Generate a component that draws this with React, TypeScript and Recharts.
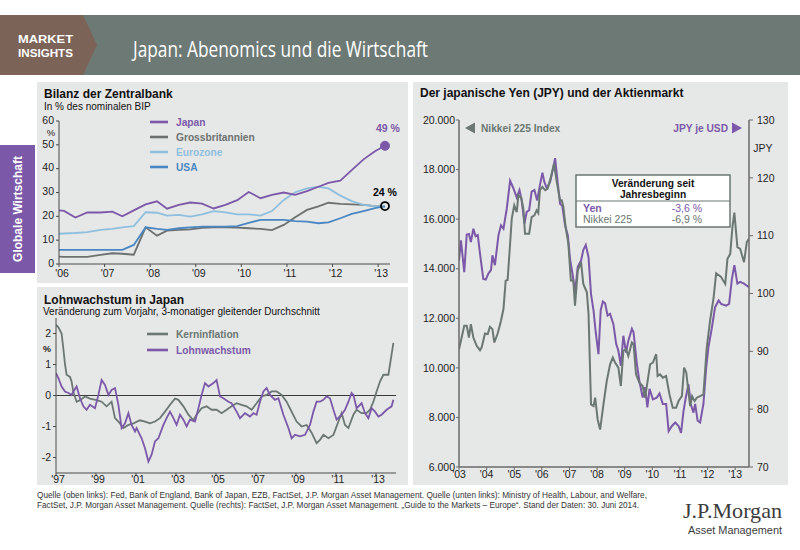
import React from 'react';
import { LineChart, Line, XAxis, YAxis, ReferenceLine, ReferenceDot } from 'recharts';

// ---------- Colours ----------
const PURPLE = '#7b59a8';
const SLATE = '#6b7772';
const UKGRAY = '#6c716f';
const EURO = '#8fbfde';
const USA = '#4a87c2';
const PANEL = '#e6e7e7';
const HEADER = '#6d7975';
const BROWN = '#7c6358';
const AXIS = '#4a4a4a';
const FONT = '"Liberation Sans", Arial, Helvetica, sans-serif';

// ---------- Chart 1: Bilanz der Zentralbank (% of GDP) ----------
const bsDates = [2006.0, 2006.11, 2006.36, 2006.62, 2006.91, 2007.17, 2007.39, 2007.64, 2007.9, 2008.15, 2008.37, 2008.63, 2008.88, 2009.14, 2009.39, 2009.65, 2009.91, 2010.16, 2010.42, 2010.67, 2010.93, 2011.18, 2011.44, 2011.69, 2011.91, 2012.17, 2012.42, 2012.68, 2012.93, 2013.15];
const bsJapan = [22.5, 22.3, 19.5, 21.6, 21.6, 22.0, 20.0, 22.5, 25.0, 26.3, 23.2, 24.8, 25.8, 25.3, 23.3, 24.8, 26.8, 30.2, 27.6, 29.0, 30.0, 29.0, 30.6, 32.4, 34.0, 35.0, 39.4, 43.9, 47.3, 49.6];
const bsUK = [3.1, 3.0, 3.0, 3.0, 3.8, 4.5, 4.3, 3.9, 15.4, 11.9, 14.0, 14.3, 14.5, 15.2, 15.4, 15.4, 15.3, 15.0, 14.7, 14.2, 16.4, 19.6, 22.7, 24.2, 25.7, 25.2, 25.0, 24.8, 24.3, 24.0];
const bsEuro = [12.7, 12.8, 13.0, 13.4, 14.3, 14.7, 15.4, 15.9, 21.7, 21.5, 20.3, 20.6, 19.9, 20.8, 22.2, 21.7, 20.8, 20.8, 20.3, 22.2, 26.9, 30.1, 31.7, 32.4, 31.7, 28.7, 26.4, 24.8, 24.3, 24.0];
const bsUSA = [5.9, 5.9, 5.9, 5.9, 5.9, 5.9, 5.9, 8.0, 15.4, 14.7, 14.3, 15.0, 15.4, 15.7, 15.7, 15.7, 15.9, 17.3, 18.5, 18.5, 18.5, 18.0, 17.8, 17.1, 17.5, 19.2, 21.0, 22.2, 23.4, 24.3];
const bsYearTicks = [2006, 2007, 2008, 2009, 2010, 2011, 2012, 2013];
const bsValueTicks = [0, 10, 20, 30, 40, 50, 60];
const bsLegend = [
  { name: 'Japan', color: PURPLE },
  { name: 'Grossbritannien', color: UKGRAY },
  { name: 'Eurozone', color: EURO },
  { name: 'USA', color: USA },
];

// ---------- Chart 2: Lohnwachstum in Japan ----------
const kerninflation: [number, number][] = [
  [1997.0, 2.28], [1997.12, 2.2], [1997.28, 2.0], [1997.37, 1.5], [1997.45, 1.0], [1997.53, 0.67], [1997.7, 0.6], [1997.78, 0.45], [1997.87, 0.1],
  [1998.03, -0.2], [1998.2, -0.15], [1998.45, -0.03], [1998.7, -0.1], [1999.03, -0.15], [1999.28, -0.2], [1999.53, -0.35], [1999.78, -0.2], [1999.95, -0.73],
  [2000.12, -0.84], [2000.37, -1.05], [2000.62, -0.95], [2000.87, -0.9], [2001.2, -0.8], [2001.45, -0.84], [2001.7, -0.9], [2001.95, -0.84],
  [2002.2, -0.73], [2002.45, -0.52], [2002.7, -0.3], [2002.95, -0.1], [2003.12, -0.14], [2003.37, -0.35], [2003.62, -0.62], [2003.87, -0.8],
  [2004.03, -0.62], [2004.28, -0.41], [2004.53, -0.35], [2004.78, -0.46], [2005.03, -0.46], [2005.28, -0.57], [2005.53, -0.46], [2005.78, -0.35],
  [2006.03, -0.25], [2006.28, -0.3], [2006.53, -0.35], [2006.78, -0.46], [2007.03, -0.25], [2007.28, -0.03], [2007.53, 0.02], [2007.78, 0.13],
  [2008.03, 0.13], [2008.28, 0.02], [2008.53, -0.2], [2008.78, -0.52], [2009.03, -0.84], [2009.28, -1.0], [2009.53, -0.95], [2009.78, -1.2],
  [2010.03, -1.54], [2010.2, -1.43], [2010.37, -1.27], [2010.62, -1.38], [2010.87, -1.27], [2011.12, -0.84], [2011.28, -0.57], [2011.45, -0.95],
  [2011.62, -1.05], [2011.87, -0.62], [2012.03, -0.46], [2012.28, -0.57], [2012.53, -0.57], [2012.7, -0.46], [2012.87, -0.2], [2013.03, 0.13],
  [2013.2, 0.45], [2013.37, 0.67], [2013.62, 0.67], [2013.87, 1.7],
];
const lohnwachstum: [number, number][] = [
  [1997.0, 0.72], [1997.12, 0.56], [1997.28, 0.29], [1997.45, 0.13], [1997.62, 0.08], [1997.78, 0.02], [1997.87, 0.13], [1998.03, 0.29],
  [1998.2, -0.09], [1998.37, -0.35], [1998.53, -0.46], [1998.7, -0.3], [1998.95, -0.41], [1999.12, 0.02], [1999.28, 0.5], [1999.45, 0.34],
  [1999.62, 0.02], [1999.78, 0.18], [1999.95, 0.24], [2000.12, -0.3], [2000.28, -1.05], [2000.45, -0.9], [2000.62, -0.57], [2000.78, -0.95],
  [2000.95, -1.16], [2001.03, -1.05], [2001.28, -1.38], [2001.45, -1.7], [2001.62, -2.13], [2001.78, -1.91], [2001.95, -1.48], [2002.12, -1.38],
  [2002.37, -0.95], [2002.53, -0.73], [2002.7, -0.52], [2002.87, -0.73], [2003.03, -0.95], [2003.2, -0.62], [2003.37, -0.78], [2003.53, -1.0],
  [2003.7, -0.78], [2003.95, -0.84], [2004.12, -0.41], [2004.28, 0.02], [2004.45, 0.4], [2004.62, 0.29], [2004.87, 0.4], [2005.03, 0.5],
  [2005.2, -0.03], [2005.37, -0.09], [2005.62, -0.2], [2005.78, -0.25], [2006.03, -0.52], [2006.2, -0.73], [2006.45, -0.57], [2006.7, -0.68],
  [2006.87, -0.57], [2007.03, -0.62], [2007.2, -0.2], [2007.37, 0.13], [2007.53, 0.24], [2007.7, 0.02], [2007.95, -0.14], [2008.12, -0.09],
  [2008.37, -0.62], [2008.62, -1.05], [2008.78, -1.38], [2008.95, -1.27], [2009.2, -1.32], [2009.45, -1.27], [2009.7, -0.95], [2009.87, -0.52],
  [2010.03, -0.2], [2010.2, -0.2], [2010.37, -0.14], [2010.53, -0.03], [2010.7, -0.09], [2010.87, -0.46], [2011.03, -0.78], [2011.28, -0.62],
  [2011.45, -0.46], [2011.62, -0.2], [2011.78, 0.08], [2011.87, 0.02], [2012.03, -0.41], [2012.28, -0.25], [2012.45, -0.57], [2012.62, -0.73],
  [2012.78, -0.41], [2012.95, -0.52], [2013.12, -0.68], [2013.28, -0.62], [2013.53, -0.46], [2013.78, -0.35], [2013.87, -0.14],
];
const wageYearTicks = [1997, 1999, 2001, 2003, 2005, 2007, 2009, 2011, 2013];
const wageValueTicks = [-2, -1, 0, 1, 2];
const wageLegend = [
  { name: 'Kerninflation', color: SLATE },
  { name: 'Lohnwachstum', color: PURPLE },
];

// ---------- Chart 3: Yen und Aktienmarkt ----------
const yenUsd: [number, number][] = [
  [2003.0, 105.7], [2003.07, 109.2], [2003.19, 103.7], [2003.28, 110.2], [2003.36, 110.3], [2003.43, 108.9], [2003.52, 111.2], [2003.6, 109.9],
  [2003.68, 110.1], [2003.76, 106.9], [2003.88, 102.5], [2003.97, 102.4], [2004.06, 103.4], [2004.16, 104.1], [2004.21, 106.6], [2004.3, 104.9],
  [2004.43, 110.1], [2004.52, 111.8], [2004.61, 111.2], [2004.73, 114.7], [2004.85, 119.5], [2004.97, 118.2], [2005.09, 116.6], [2005.19, 117.9],
  [2005.27, 116.1], [2005.37, 112.1], [2005.45, 114.1], [2005.54, 114.4], [2005.63, 117.6], [2005.73, 117.9], [2005.83, 116.1], [2005.93, 118.7],
  [2006.02, 120.9], [2006.09, 119.3], [2006.18, 118.2], [2006.3, 119.3], [2006.42, 121.9], [2006.48, 123.4], [2006.57, 119.3], [2006.66, 115.5],
  [2006.74, 115.1], [2006.84, 111.8], [2006.94, 110.1], [2007.02, 106.0], [2007.11, 103.4], [2007.2, 100.2], [2007.3, 104.6], [2007.42, 105.7],
  [2007.5, 107.5], [2007.59, 108.4], [2007.69, 106.3], [2007.78, 99.9], [2007.87, 97.1], [2007.95, 93.3], [2008.05, 89.5], [2008.13, 97.1],
  [2008.21, 98.6], [2008.29, 98.3], [2008.38, 96.2], [2008.47, 96.5], [2008.59, 94.7], [2008.69, 91.3], [2008.77, 90.1], [2008.86, 87.5],
  [2008.95, 92.7], [2009.05, 89.8], [2009.13, 91.8], [2009.26, 93.9], [2009.32, 93.3], [2009.44, 87.8], [2009.53, 84.9], [2009.65, 82.0],
  [2009.74, 83.8], [2009.82, 80.3], [2009.9, 83.5], [2010.02, 81.7], [2010.16, 82.0], [2010.26, 82.7], [2010.38, 80.9], [2010.5, 80.9],
  [2010.59, 76.2], [2010.71, 77.1], [2010.83, 77.7], [2010.95, 77.1], [2011.04, 75.9], [2011.13, 79.7], [2011.21, 82.0], [2011.31, 84.3],
  [2011.39, 80.9], [2011.49, 79.4], [2011.55, 80.9], [2011.64, 78.0], [2011.73, 77.7], [2011.85, 80.9], [2011.95, 87.2], [2012.03, 90.7],
  [2012.15, 93.9], [2012.27, 97.6], [2012.4, 98.8], [2012.49, 98.2], [2012.67, 97.9], [2012.78, 98.2], [2012.88, 102.5], [2012.97, 104.9],
  [2013.08, 101.7], [2013.18, 102.0], [2013.32, 101.7], [2013.5, 101.1],
];
const nikkei225: [number, number][] = [
  [2003.0, 10753], [2003.07, 11090], [2003.19, 11700], [2003.28, 11700], [2003.36, 11225], [2003.43, 11765], [2003.52, 11225], [2003.64, 10888],
  [2003.76, 10712], [2003.82, 10820], [2003.94, 11387], [2004.04, 11360], [2004.12, 11657], [2004.21, 11563], [2004.28, 11023], [2004.4, 11387],
  [2004.52, 11900], [2004.61, 12372], [2004.69, 13520], [2004.76, 13547], [2004.85, 15005], [2004.91, 16017], [2005.0, 16557], [2005.09, 16287],
  [2005.15, 16962], [2005.25, 16868], [2005.33, 16422], [2005.39, 15410], [2005.54, 15410], [2005.63, 16085], [2005.73, 16152], [2005.81, 16355],
  [2005.87, 16247], [2005.93, 17165], [2006.02, 17300], [2006.12, 17165], [2006.21, 17232], [2006.33, 17705], [2006.44, 18245], [2006.54, 17502],
  [2006.66, 16760], [2006.72, 16760], [2006.78, 16490], [2006.86, 15680], [2006.96, 15005], [2007.05, 13520], [2007.14, 13520], [2007.2, 12507],
  [2007.3, 13925], [2007.42, 14262], [2007.5, 13385], [2007.63, 13047], [2007.69, 12170], [2007.78, 8525], [2007.87, 8457], [2007.93, 8795],
  [2008.02, 7917], [2008.11, 7512], [2008.23, 8525], [2008.35, 9470], [2008.47, 10145], [2008.57, 10415], [2008.65, 10212], [2008.77, 10010],
  [2008.86, 9267], [2008.95, 10685], [2009.05, 10752], [2009.13, 10482], [2009.26, 11022], [2009.32, 10955], [2009.41, 9740], [2009.53, 9402],
  [2009.65, 9267], [2009.74, 8795], [2009.82, 9402], [2009.92, 10145], [2010.02, 10212], [2010.14, 10550], [2010.19, 9672], [2010.28, 9740],
  [2010.38, 9605], [2010.5, 9672], [2010.62, 8930], [2010.74, 8390], [2010.86, 8390], [2010.95, 8660], [2011.07, 8862], [2011.15, 10010],
  [2011.23, 9807], [2011.29, 9200], [2011.37, 8457], [2011.44, 8862], [2011.53, 8660], [2011.61, 8795], [2011.73, 8862], [2011.85, 8930],
  [2011.97, 10820], [2012.09, 11900], [2012.22, 12845], [2012.31, 13817], [2012.48, 13682], [2012.64, 13385], [2012.72, 14397], [2012.82, 14600],
  [2012.9, 15680], [2012.97, 16260], [2013.08, 14870], [2013.18, 14802], [2013.32, 14262], [2013.42, 15072], [2013.5, 15207],
];
const fxYearTicks = [2003, 2004, 2005, 2006, 2007, 2008, 2009, 2010, 2011, 2012, 2013];
const nikkeiTicks = [6000, 8000, 10000, 12000, 14000, 16000, 18000, 20000];
const yenTicks = [70, 80, 90, 100, 110, 120, 130];
const ytdRows = [
  { name: 'Yen', value: '-3,6 %', color: PURPLE, bold: true },
  { name: 'Nikkei 225', value: '-6,9 %', color: SLATE, bold: false },
];

const footerLines = [
  'Quelle (oben links): Fed, Bank of England, Bank of Japan, EZB, FactSet, J.P. Morgan Asset Management. Quelle (unten links): Ministry of Health, Labour, and Welfare,',
  'FactSet, J.P. Morgan Asset Management. Quelle (rechts): FactSet, J.P. Morgan Asset Management. \u201eGuide to the Markets \u2013 Europe\u201c. Stand der Daten: 30. Juni 2014.',
];

// ---------- helpers ----------
const yearFmt = (y: number) => "'" + String(y).slice(2);
const thousandFmt = (v: number) => {
  const k = Math.floor(v / 1000);
  const r = String(v % 1000).padStart(3, '0');
  return `${k}.${r}`;
};
const toRows = (pts: [number, number][]) => pts.map(([t, v]) => ({ t, v }));

const bsRows = bsDates.map((t, i) => ({ t, japan: bsJapan[i], uk: bsUK[i], euro: bsEuro[i], usa: bsUSA[i] }));
const lastT = bsDates[bsDates.length - 1];
const lastJapan = bsJapan[bsJapan.length - 1];
const lastUSA = bsUSA[bsUSA.length - 1];

const tickStyle = { fontSize: 10.5, fill: '#1e1e1e', fontFamily: FONT };

const LegendRows = ({ items, x, y, gap, sw }: { items: { name: string; color: string }[]; x: number; y: number; gap: number; sw: number }) => (
  <g>
    {items.map((it, i) => (
      <g key={it.name}>
        <line x1={x} x2={x + sw} y1={y + i * gap} y2={y + i * gap} stroke={it.color} strokeWidth={2.6} />
        <text x={x + sw + 8} y={y + i * gap + 3.6} fontSize={10.2} fontWeight="bold" fill={it.color} fontFamily={FONT}>{it.name}</text>
      </g>
    ))}
  </g>
);

export default function App() {
  return (
    <div style={{ position: 'absolute', left: 0, top: 0, width: 800, height: 550, background: '#ffffff', overflow: 'hidden', fontFamily: FONT }}>
      {/* background layer */}
      <svg width={800} height={550} style={{ position: 'absolute', left: 0, top: 0 }}>
        <rect x={0} y={15} width={800} height={60} fill={HEADER} />
        <polygon points="0,15 83,15 97,45 83,75 0,75" fill={BROWN} />
        <text x={18} y={42.5} fontSize={11.5} fontWeight="bold" fill="#fff" fontFamily={FONT} textLength={55} lengthAdjust="spacingAndGlyphs">MARKET</text>
        <text x={18} y={56.5} fontSize={11.5} fontWeight="bold" fill="#fff" fontFamily={FONT} textLength={55} lengthAdjust="spacingAndGlyphs">INSIGHTS</text>
        <text x={133} y={57} fontSize={21} fill="#fff" fontFamily='"Open Sans", sans-serif' textLength={295} lengthAdjust="spacingAndGlyphs">Japan: Abenomics und die Wirtschaft</text>

        <rect x={37} y={82} width={371} height={201} fill={PANEL} />
        <rect x={37} y={287} width={371} height={198} fill={PANEL} />
        <rect x={413} y={82} width={375} height={403} fill={PANEL} />

        <rect x={0} y={145} width={35} height={128} fill={PURPLE} />
        <text x={18} y={213} fontSize={12} fontWeight="bold" fill="#fff" textAnchor="middle" transform="rotate(-90 18 209)" fontFamily={FONT}>Globale Wirtschaft</text>

        <text x={44} y={97.5} fontSize={12} fontWeight="bold" fill="#111">Bilanz der Zentralbank</text>
        <text x={44} y={110} fontSize={10} fill="#111">In % des nominalen BIP</text>
        <text x={44} y={304} fontSize={12} fontWeight="bold" fill="#111">Lohnwachstum in Japan</text>
        <text x={43} y={314.5} fontSize={10} fill="#111">Veränderung zum Vorjahr, 3-monatiger gleitender Durchschnitt</text>
        <text x={420} y={97} fontSize={12} fontWeight="bold" fill="#111">Der japanische Yen (JPY) und der Aktienmarkt</text>

        {footerLines.map((l, i) => (
          <text key={i} x={37} y={498 + i * 10} fontSize={8.2} fill="#333" fontFamily='"Liberation Sans Narrow", "Arial Narrow", "Liberation Sans", sans-serif' textLength={i === 0 ? 610 : 602} lengthAdjust="spacingAndGlyphs">{l}</text>
        ))}
        <text x={683} y={518} fontSize={21.5} fill="#3c3c3c" fontFamily='"Liberation Serif", "Times New Roman", serif' textLength={99} lengthAdjust="spacingAndGlyphs">J.P.Morgan</text>
        <text x={688} y={534} fontSize={10.5} fill="#3c3c3c" fontFamily='"Liberation Sans Narrow", "Arial Narrow", "Liberation Sans", sans-serif' textLength={94} lengthAdjust="spacingAndGlyphs">Asset Management</text>
      </svg>

      {/* Chart 1 */}
      <div style={{ position: 'absolute', left: 37, top: 82 }}>
        <LineChart width={371} height={201} data={bsRows} margin={{ top: 39, right: 18, bottom: 0, left: 0 }}>
          <XAxis type="number" dataKey="t" domain={[2006, 2013.26]} ticks={bsYearTicks} tickFormatter={yearFmt} height={19} tickSize={3} tickMargin={3} axisLine={{ stroke: AXIS }} tickLine={{ stroke: AXIS }} tick={{ ...tickStyle, dx: 3 }} allowDataOverflow />
          <YAxis type="number" domain={[0, 60]} ticks={bsValueTicks} width={22} tickSize={3} tickMargin={2} axisLine={{ stroke: AXIS }} tickLine={{ stroke: AXIS }} tick={{ ...tickStyle, dy: -1 }} allowDataOverflow />
          <Line dataKey="uk" stroke={UKGRAY} strokeWidth={1.8} dot={false} activeDot={false} isAnimationActive={false} />
          <Line dataKey="euro" stroke={EURO} strokeWidth={1.8} dot={false} activeDot={false} isAnimationActive={false} />
          <Line dataKey="usa" stroke={USA} strokeWidth={1.8} dot={false} activeDot={false} isAnimationActive={false} />
          <Line dataKey="japan" stroke={PURPLE} strokeWidth={1.8} dot={false} activeDot={false} isAnimationActive={false} />
          <ReferenceDot x={lastT} y={lastJapan} r={4.5} fill={PURPLE} stroke={PURPLE} label={{ value: '49 %', position: 'top', offset: 9, dx: 3, fill: PURPLE, fontSize: 10.5, fontWeight: 'bold' }} />
          <ReferenceDot x={lastT} y={lastUSA} r={4} fill="none" stroke="#000" strokeWidth={1.8} label={{ value: '24 %', position: 'top', offset: 6, fill: '#000', fontSize: 10.5, fontWeight: 'bold' }} />
        </LineChart>
      </div>

      {/* Chart 2 */}
      <div style={{ position: 'absolute', left: 37, top: 287 }}>
        <LineChart width={371} height={198} margin={{ top: 31, right: 12, bottom: 0, left: 0 }}>
          <XAxis type="number" dataKey="t" domain={[1997, 2014]} ticks={wageYearTicks} tickFormatter={yearFmt} height={12} tickSize={3} tickMargin={0} axisLine={{ stroke: AXIS }} tickLine={{ stroke: AXIS }} tick={{ ...tickStyle, dx: 2 }} allowDataOverflow />
          <YAxis type="number" domain={[-2.5, 2.5]} ticks={wageValueTicks} width={19} tickSize={3} tickMargin={2} axisLine={{ stroke: AXIS }} tickLine={{ stroke: AXIS }} tick={tickStyle} allowDataOverflow />
          <ReferenceLine y={0} stroke="#3a3a3a" strokeWidth={1.2} />
          <Line data={toRows(kerninflation)} dataKey="v" stroke={SLATE} strokeWidth={1.8} dot={false} activeDot={false} isAnimationActive={false} />
          <Line data={toRows(lohnwachstum)} dataKey="v" stroke={PURPLE} strokeWidth={1.8} dot={false} activeDot={false} isAnimationActive={false} />
        </LineChart>
      </div>

      {/* Chart 3 */}
      <div style={{ position: 'absolute', left: 413, top: 82 }}>
        <LineChart width={375} height={403} margin={{ top: 38, right: 0, bottom: 0, left: 0 }}>
          <XAxis type="number" dataKey="t" domain={[2003, 2013.5]} ticks={fxYearTicks} tickFormatter={yearFmt} height={18} tickSize={3} tickMargin={1} axisLine={{ stroke: '#6a6a6a', strokeWidth: 1.5 }} tickLine={{ stroke: '#6a6a6a' }} tick={tickStyle} allowDataOverflow />
          <YAxis yAxisId="left" type="number" domain={[6000, 20000]} ticks={nikkeiTicks} tickFormatter={thousandFmt} width={46} tickSize={3} tickMargin={1} axisLine={{ stroke: '#6a6a6a', strokeWidth: 1.5 }} tickLine={{ stroke: '#6a6a6a' }} tick={tickStyle} allowDataOverflow />
          <YAxis yAxisId="right" orientation="right" type="number" domain={[70, 130]} ticks={yenTicks} width={39} tickSize={4} tickMargin={4} axisLine={{ stroke: '#6a6a6a', strokeWidth: 1.5 }} tickLine={{ stroke: '#6a6a6a' }} tick={tickStyle} allowDataOverflow />
          <Line yAxisId="right" data={toRows(yenUsd)} dataKey="v" stroke={PURPLE} strokeWidth={2} dot={false} activeDot={false} isAnimationActive={false} />
          <Line yAxisId="left" data={toRows(nikkei225)} dataKey="v" stroke={SLATE} strokeWidth={2} dot={false} activeDot={false} isAnimationActive={false} />
        </LineChart>
      </div>

      {/* overlay layer: legends, notes, table */}
      <svg width={800} height={550} style={{ position: 'absolute', left: 0, top: 0, pointerEvents: 'none' }}>
        <LegendRows items={bsLegend} x={150} y={122} gap={15} sw={18} />
        <text x={51} y={136} fontSize={9.5} fill="#1e1e1e" textAnchor="middle">%</text>

        <LegendRows items={wageLegend} x={147} y={334} gap={16} sw={21} />
        <text x={47} y={352} fontSize={9} fontWeight="bold" fill="#1e1e1e" textAnchor="middle">%</text>

        <polygon points="465,128 475,122.5 475,133.5" fill={SLATE} />
        <text x={481} y={131.8} fontSize={10.2} fontWeight="bold" fill={SLATE}>Nikkei 225 Index</text>
        <text x={728} y={131.8} fontSize={10.2} fontWeight="bold" fill={PURPLE} textAnchor="end">JPY je USD</text>
        <polygon points="742,128 732,122.5 732,133.5" fill={PURPLE} />
        <text x={763} y={152} fontSize={10.5} fill="#1e1e1e" textAnchor="middle">JPY</text>

        <rect x={576} y={175} width={154} height={52} fill="#ffffff" stroke={SLATE} strokeWidth={1.5} />
        <line x1={576} x2={730} y1={201} y2={201} stroke={SLATE} strokeWidth={1.2} />
        <text x={653} y={187} fontSize={10.2} fontWeight="bold" fill="#111" textAnchor="middle">Veränderung seit</text>
        <text x={653} y={198} fontSize={10.2} fontWeight="bold" fill="#111" textAnchor="middle">Jahresbeginn</text>
        {ytdRows.map((r, i) => (
          <g key={r.name}>
            <text x={583} y={212 + i * 11} fontSize={10.5} fontWeight={r.bold ? 'bold' : 'normal'} fill={r.color}>{r.name}</text>
            <text x={702} y={212 + i * 11} fontSize={10.5} fill={r.color} textAnchor="end">{r.value}</text>
          </g>
        ))}
      </svg>
    </div>
  );
}
